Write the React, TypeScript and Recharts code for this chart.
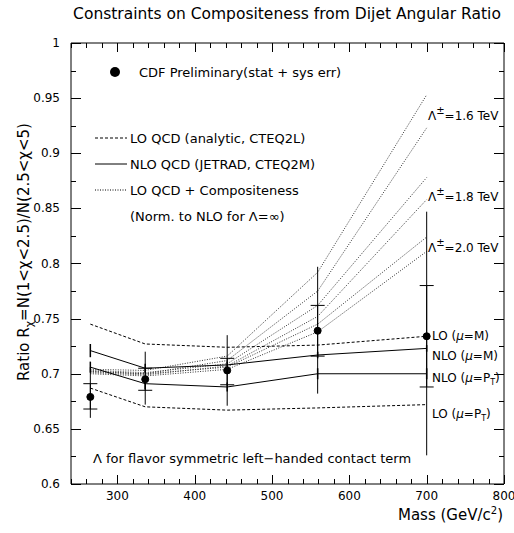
import React from 'react'
import { ComposedChart, Line, XAxis, YAxis, ErrorBar, ReferenceLine, Customized } from 'recharts'

// mass points (GeV/c^2)
const mass = [265, 336, 442, 559, 700]

// CDF preliminary data: central value, total (stat+sys) band, stat band
const cdfRatio = [0.679, 0.695, 0.703, 0.739, 0.734]
const totLow = [0.66, 0.672, 0.671, 0.682, 0.626]
const totHigh = [0.706, 0.72, 0.735, 0.797, 0.847]
const statLow = [0.668, 0.685, 0.69, 0.716, 0.688]
const statHigh = [0.691, 0.705, 0.714, 0.762, 0.78]

// QCD predictions
const loM = [0.745, 0.727, 0.724, 0.726, 0.734]
const loPt = [0.687, 0.67, 0.667, 0.669, 0.672]
const nloM = [0.721, 0.705, 0.708, 0.717, 0.723]
const nloPt = [0.706, 0.691, 0.688, 0.7, 0.7]
const nloMErr = [0.006, 0.004, 0.003, 0.003, 0.003]
const nloPtErr = [0.005, 0.005, 0.004, 0.005, 0.005]

// LO QCD + compositeness, Lambda+ / Lambda-
const comp16a = [0.704, 0.703, 0.716, 0.792, 0.953]
const comp16b = [0.702, 0.7, 0.712, 0.775, 0.923]
const comp18a = [0.703, 0.701, 0.709, 0.762, 0.878]
const comp18b = [0.701, 0.699, 0.707, 0.752, 0.858]
const comp20a = [0.702, 0.7, 0.706, 0.745, 0.824]
const comp20b = [0.7, 0.698, 0.704, 0.738, 0.811]

const xTicks = [240, 260, 280, 300, 320, 340, 360, 380, 400, 420, 440, 460, 480, 500, 520, 540, 560, 580, 600, 620, 640, 660, 680, 700, 720, 740, 760, 780, 800]
const yTicks = [0.6, 0.625, 0.65, 0.675, 0.7, 0.725, 0.75, 0.775, 0.8, 0.825, 0.85, 0.875, 0.9, 0.925, 0.95, 0.975, 1]

const X_MIN = 240
const X_MAX = 800
const Y_MIN = 0.6
const Y_MAX = 1

// plot box (chart margins + axis sizes)
const W = 514
const H = 533
const M = { top: 43, right: 10, bottom: 19, left: 0 }
const Y_AXIS_W = 71
const X_AXIS_H = 30
const P_LEFT = M.left + Y_AXIS_W
const P_RIGHT = W - M.right
const P_TOP = M.top
const P_BOTTOM = H - M.bottom - X_AXIS_H

const compKeys = ['c16a', 'c16b', 'c18a', 'c18b', 'c20a', 'c20b']
const compSets = [comp16a, comp16b, comp18a, comp18b, comp20a, comp20b]

const data = mass.map((m, i) => {
  const row: any = {
    mass: m,
    cdf: cdfRatio[i],
    tot: [cdfRatio[i] - totLow[i], totHigh[i] - cdfRatio[i]],
    stat: [cdfRatio[i] - statLow[i], statHigh[i] - cdfRatio[i]],
    loM: loM[i],
    loPt: loPt[i],
    nloM: nloM[i],
    nloPt: nloPt[i],
    nloMErr: nloMErr[i],
    nloPtErr: nloPtErr[i],
  }
  compKeys.forEach((k, j) => { row[k] = compSets[j][i] })
  return row
})

const FONT = '"DejaVu Sans", sans-serif'

const isMajorX = (v: number) => v % 100 === 0
const isMajorY = (v: number) => Math.round(v * 1000) % 50 === 0

const BottomTick = (props: any) => {
  const { x, y, payload } = props
  if (!isMajorX(payload.value)) return <g />
  return (
    <text x={x} y={y + 16} textAnchor="middle" fontSize={12} fontFamily={FONT} fill="#000">
      {payload.value}
    </text>
  )
}

const LeftTick = (props: any) => {
  const { x, y, payload } = props
  if (!isMajorY(payload.value)) return <g />
  return (
    <text x={x - 11} y={y + 4} textAnchor="end" fontSize={12} fontFamily={FONT} fill="#000">
      {payload.value === 1 ? '1' : String(payload.value)}
    </text>
  )
}

// inward tick marks on all four sides of the frame
const FrameTicks = () => {
  const px = (v: number) => P_LEFT + ((v - X_MIN) / (X_MAX - X_MIN)) * (P_RIGHT - P_LEFT)
  const py = (v: number) => P_TOP + ((Y_MAX - v) / (Y_MAX - Y_MIN)) * (P_BOTTOM - P_TOP)
  return (
    <g stroke="#000" strokeWidth={1}>
      {xTicks.map((t) => {
        const len = isMajorX(t) ? 9 : 5
        const x = Math.round(px(t)) + 0.5
        return (
          <g key={'x' + t}>
            <line x1={x} x2={x} y1={P_BOTTOM} y2={P_BOTTOM - len} />
            <line x1={x} x2={x} y1={P_TOP} y2={P_TOP + len} />
          </g>
        )
      })}
      {yTicks.map((t) => {
        const len = isMajorY(t) ? 10 : 5
        const y = Math.round(py(t)) + 0.5
        return (
          <g key={'y' + t}>
            <line x1={P_LEFT} x2={P_LEFT + len} y1={y} y2={y} />
            <line x1={P_RIGHT} x2={P_RIGHT - len} y1={y} y2={y} />
          </g>
        )
      })}
    </g>
  )
}

const Lambda = ({ y, tev }: { y: number; tev: string }) => (
  <text x={428} y={y} fontSize={12} fontFamily={FONT} fill="#000">
    Λ<tspan dy={-6} fontSize={10}>±</tspan>
    <tspan dy={6}>{'=' + tev + ' TeV'}</tspan>
  </text>
)

const Annotations = () => (
  <g fontFamily={FONT} fill="#000">
    <FrameTicks />

    <text x={287} y={19} textAnchor="middle" fontSize={15.5}>
      Constraints on Compositeness from Dijet Angular Ratio
    </text>

    <circle cx={115} cy={72} r={5} fill="#000" />
    <text x={139} y={77} fontSize={13}>CDF Preliminary(stat + sys err)</text>

    <line x1={95} x2={127} y1={138} y2={138} stroke="#000" strokeDasharray="3 2" />
    <text x={130} y={143} fontSize={13}>LO QCD (analytic, CTEQ2L)</text>
    <line x1={95} x2={127} y1={164} y2={164} stroke="#000" />
    <text x={130} y={169} fontSize={13}>NLO QCD (JETRAD, CTEQ2M)</text>
    <line x1={95} x2={127} y1={190} y2={190} stroke="#000" strokeDasharray="1 1.5" />
    <text x={130} y={195} fontSize={13}>LO QCD + Compositeness</text>
    <text x={130} y={221} fontSize={13}>(Norm. to NLO for Λ=∞)</text>

    <text x={93} y={463} fontSize={13}>Λ for flavor symmetric left−handed contact term</text>

    <Lambda y={120} tev="1.6" />
    <Lambda y={201} tev="1.8" />
    <Lambda y={252} tev="2.0" />

    <text x={432} y={340} fontSize={12}>LO (<tspan fontStyle="italic">μ</tspan>=M)</text>
    <text x={432} y={360} fontSize={12}>NLO (<tspan fontStyle="italic">μ</tspan>=M)</text>
    <text x={432} y={382} fontSize={12}>
      NLO (<tspan fontStyle="italic">μ</tspan>=P<tspan dy={3} fontSize={8}>T</tspan><tspan dy={-3}>)</tspan>
    </text>
    <text x={432} y={418} fontSize={12}>
      LO (<tspan fontStyle="italic">μ</tspan>=P<tspan dy={3} fontSize={8}>T</tspan><tspan dy={-3}>)</tspan>
    </text>

    <text x={503} y={520} textAnchor="end" fontSize={15}>
      Mass (GeV/c<tspan dy={-6} fontSize={10}>2</tspan><tspan dy={6}>)</tspan>
    </text>

    <text x={0} y={0} fontSize={15} textAnchor="middle" transform="translate(29,252) rotate(-90)">
      Ratio R<tspan dy={4} fontSize={11}>χ</tspan>
      <tspan dy={-4}>{'=N(1<χ<2.5)/N(2.5<χ<5)'}</tspan>
    </text>
  </g>
)

const App = () => {
  return (
    <div style={{ position: 'absolute', left: 0, top: 0 }}>
      <ComposedChart width={W} height={H} data={data} margin={M}>
        <XAxis dataKey="mass" type="number" domain={[X_MIN, X_MAX]} ticks={xTicks}
          tickSize={0} tickMargin={0} tickLine={false} tick={<BottomTick />} interval={0}
          axisLine={{ stroke: '#000' }} height={X_AXIS_H} allowDataOverflow />
        <YAxis type="number" domain={[Y_MIN, Y_MAX]} ticks={yTicks} width={Y_AXIS_W}
          tickSize={0} tickMargin={0} tickLine={false} tick={<LeftTick />} interval={0}
          axisLine={{ stroke: '#000' }} allowDataOverflow />

        {/* frame: top and right edges */}
        <ReferenceLine y={Y_MAX} stroke="#000" />
        <ReferenceLine x={X_MAX} stroke="#000" />

        {compKeys.map((k) => (
          <Line key={k} type="linear" dataKey={k} stroke="#333"
            strokeWidth={1} strokeDasharray="1 1.5" dot={false} isAnimationActive={false} />
        ))}

        <Line type="linear" dataKey="loM" stroke="#000" strokeWidth={1}
          strokeDasharray="3 2" dot={false} isAnimationActive={false} />
        <Line type="linear" dataKey="loPt" stroke="#000" strokeWidth={1}
          strokeDasharray="3 2" dot={false} isAnimationActive={false} />
        <Line type="linear" dataKey="nloM" stroke="#000" strokeWidth={1}
          dot={false} isAnimationActive={false}>
          <ErrorBar dataKey="nloMErr" direction="y" width={0} stroke="#000" />
        </Line>
        <Line type="linear" dataKey="nloPt" stroke="#000" strokeWidth={1}
          dot={false} isAnimationActive={false}>
          <ErrorBar dataKey="nloPtErr" direction="y" width={0} stroke="#000" />
        </Line>

        <Line type="linear" dataKey="cdf" stroke="none"
          dot={{ r: 3.5, fill: '#000', stroke: '#000' }} activeDot={false} isAnimationActive={false}>
          <ErrorBar dataKey="tot" direction="y" width={0} stroke="#000" strokeWidth={1} />
          <ErrorBar dataKey="stat" direction="y" width={7} stroke="#000" strokeWidth={1} />
        </Line>

        <Customized component={Annotations} />
      </ComposedChart>
    </div>
  )
}

export default App
